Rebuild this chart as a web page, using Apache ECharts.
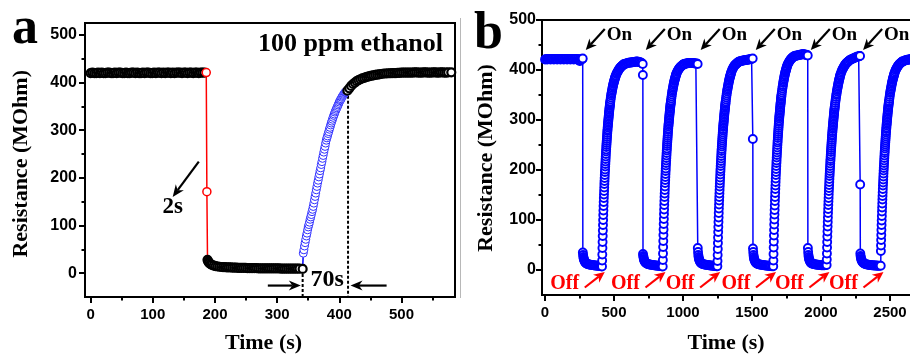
<!DOCTYPE html>
<html><head><meta charset="utf-8">
<script src="https://cdn.jsdelivr.net/npm/echarts@6/dist/echarts.min.js"></script>
<style>html,body{margin:0;padding:0;background:#fff}#c{width:910px;height:358px}</style>
</head><body><div id="c"></div>
<script>
// ---------------- Panel a data: [time (s), resistance (MOhm)] ----------------
const a_base = [[0,420],[3,421],[6,420],[9,420],[12,421],[15,420],[18,421],[21,420],[24,420],[27,421],[30,421],[33,420],[36,420],[39,421],[42,420],[45,421],[48,421],[51,420],[54,420],[57,421],[60,420],[63,420],[66,421],[69,421],[72,420],[75,421],[78,420],[81,420],[84,421],[87,420],[90,421],[93,421],[96,420],[99,420],[102,421],[105,420],[108,421],[111,421],[114,420],[117,421],[120,420],[123,421],[126,421],[129,420],[132,421],[135,420],[138,421],[141,421],[144,421],[147,420],[150,421],[153,421],[156,420],[159,421],[162,421],[165,420],[168,421],[171,421],[174,420],[177,421],[180,421],[183,421]];
const a_drop = [[186,421],[187,171]];
const a_decay = [[188,28],[189,25],[190,23],[191,21],[193,19],[195,17.5],[198,16],[201,15],[204,14],[207,13.5],[210,13],[213,12.5],[216,12.5],[219,12],[222,12],[225,12],[228,11.5],[231,11.5],[234,11.5],[237,11],[240,11],[243,11],[246,11],[249,11],[252,10.5],[255,10.5],[258,10.5],[261,10.5],[264,10.5],[267,10.5],[270,10],[273,10],[276,10],[279,10],[282,10],[285,10],[288,10],[291,10],[294,10],[297,10],[300,10],[303,10],[306,9.5],[309,9.5],[312,9.5],[315,9.5],[318,9.5],[321,9.5],[324,9.5],[327,9.5],[330,9.5],[333,9.5],[336,9.5],[341,9]];
const a_rise = [[342,42],[343,49],[344,57],[345,64],[346,71],[347,78],[348,84],[349,91],[350,97],[351,102],[352,107],[353,113],[354,118],[355,123],[356,129],[357,134],[358,140],[359,147],[360,154],[361,161],[362,168],[363,175],[364,182],[365,189],[366,195],[367,202],[368,208],[369,215],[370,221],[371,228],[372,234],[373,241],[374,247],[375,254],[376,260],[377,266],[378,273],[379,279],[380,284],[381,288],[382,293],[383,297],[384,302],[385,306],[386,311],[387,315],[388,319],[389,323],[390,327],[391,331],[392,334],[393,338],[394,341],[395,344],[396,347],[397,350],[398,353],[399,356],[400,359],[401,362],[402,364],[403,366],[404,369],[405,371],[406,373],[407,375],[408,377],[409,379],[410,380],[411,381],[412,382]];
const a_recover = [[413,383],[416,388],[419,393],[422,397],[425,400],[428,403],[431,405],[434,407],[437,409],[440,410],[443,411.5],[446,412.5],[449,413.5],[452,414.5],[455,415],[458,416],[461,416.5],[464,417],[467,418],[470,418.5],[473,419],[476,419],[479,419.5],[482,419.5],[485,420],[488,420],[491,420],[494,420.5],[497,420.5],[500,421],[503,421],[506,421],[509,421],[512,421],[515,421],[518,421],[521,421.5],[524,421.5],[527,421],[530,421],[533,421],[536,421.5],[539,421.5],[542,421],[545,421],[548,421],[551,421.5],[554,421.5],[557,421],[560,421],[563,421.5],[566,421.5],[569,421],[572,421],[575,421.5],[580,421.5]];
const a_response_t = [341, 9];     // start of recovery (time, value)
const a_recovery_t = [414, 383];   // end of the 70 s recovery (time, value)

// ---------------- Panel b data ----------------
const b_base = [[0,421],[8,422],[16,421],[24,422],[32,422],[40,421],[48,422],[56,422],[64,421],[72,422],[80,422],[88,421],[96,422],[104,422],[112,421],[120,422],[128,422],[136,421],[144,422],[152,422],[160,421],[168,422],[176,422],[184,421],[192,422],[200,422],[208,421],[216,422],[224,422],[232,421],[240,422],[246,420],[251,418],[256,419],[261,421],[266,422],[270,422],[273,423]];
const b_cycle1 = [[274,35],[276,30],[278,26],[280,23],[282,21],[285,19],[288,17],[291,15.5],[295,14],[300,13],[306,12],[313,11.5],[320,11],[328,10.5],[336,10],[344,10],[352,9.5],[360,9],[368,9],[376,8.5],[384,8.5],[392,8],[400,8],[407,7.5],[413,7],
 [414,19],[415,31],[416,44],[417,56],[418,68],[419,79],[420,90],[421,100],[422,110],[423,119],[424,128],[425,136],[426,144],[427,151],[428,158],[429,165],[430,172],[431,178],[432,184],[433,190],[434,196],[435,201],[436,207],[437,212],[438,217],[439,222],[440,227],[441,232],[442,237],[443,241],[444,246],[445,250],[446,254],[447,258],[448,262],[449,266],[450,270],[451,274],[452,278],[453,281],[454,285],[455,288],[456,291],[457,294],[458,297],[459,300],[460,303],[461,306],[462,309],[463,312],[464,315],[465,317],[466,320],[467,323],[468,325],[469,328],[470,330],[471,332],[472,335],[473,337],
 [475,341],[477,345],[479,349],[481,352],[483,355],[485,358],[487,361],[489,364],[491,367],[493,369],[495,372],[497,374],[499,376],[501,378],[503,380],[505,382],[507,384],[509,386],[511,387],[513,389],
 [517,392],[521,394],[525,396],[529,398],[533,400],[537,402],[541,403],[545,405],[549,406],[553,407],[557,408],[561,409],[565,410],[569,411],[573,412],
 [581,412],[589,413],[597,414],[605,414],[613,415],[621,415],[629,415],[637,416],[645,416],[653,416],[661,417],[669,417],[677,416],[685,416],[693,415],[701,414],[708,412],[709,390]];
const b_cycle2 = [[710,32],[712,28],[714,25],[716,22],[718,20],[721,18],[724,16.5],[728,15],[732,14],[737,13],[743,12],[750,11.5],[758,11],[766,10.5],[774,10],[782,10],[790,9.5],[798,9],[806,9],[814,8.5],[822,8.5],[830,8],[838,8],[846,7.5],[853,7],
 [854,20],[855,33],[856,46],[857,58],[858,70],[859,81],[860,92],[861,102],[862,112],[863,121],[864,130],[865,138],[866,146],[867,153],[868,160],[869,167],[870,174],[871,180],[872,186],[873,192],[874,198],[875,203],[876,209],[877,214],[878,219],[879,224],[880,229],[881,234],[882,239],[883,243],[884,248],[885,252],[886,256],[887,260],[888,264],[889,268],[890,272],[891,276],[892,280],[893,283],[894,287],[895,290],[896,293],[897,296],[898,299],[899,302],[900,305],[901,308],[902,311],[903,314],[904,317],[905,319],[906,322],[907,325],[908,327],[909,330],[910,332],[911,334],[912,337],[913,339],
 [915,343],[917,347],[919,351],[921,355],[923,358],[925,361],[927,364],[929,367],[931,370],[933,373],[935,375],[937,378],[939,380],[941,382],[943,384],[945,386],[947,388],[949,390],[951,392],[953,393],
 [957,396],[961,398],[965,400],[969,402],[973,403],[977,405],[981,406],[985,407],[989,408],[993,409],[997,410],[1001,411],[1005,411],[1009,412],[1013,412],
 [1021,413],[1029,413],[1037,414],[1045,414],[1053,414],[1061,414],[1069,414],[1077,414],[1085,413],[1093,413],[1100,413],[1106,412]];
const b_cycle3 = [[1107,44],[1109,36],[1111,30],[1113,26],[1115,23],[1117,21],[1120,19],[1123,17],[1126,15.5],[1130,14],[1135,13],[1141,12],[1148,11.5],[1156,11],[1164,10.5],[1172,10],[1180,10],[1188,9.5],[1196,9],[1204,9],[1212,8.5],[1220,8.5],[1228,8],[1236,8],[1243,7.5],[1249,7.5],
 [1250,18],[1251,30],[1252,42],[1253,54],[1254,65],[1255,76],[1256,86],[1257,96],[1258,105],[1259,114],[1260,123],[1261,131],[1262,139],[1263,146],[1264,153],[1265,160],[1266,167],[1267,173],[1268,179],[1269,185],[1270,191],[1271,197],[1272,202],[1273,208],[1274,213],[1275,218],[1276,223],[1277,228],[1278,233],[1279,238],[1280,242],[1281,247],[1282,251],[1283,255],[1284,259],[1285,263],[1286,267],[1287,271],[1288,275],[1289,279],[1290,282],[1291,286],[1292,289],[1293,292],[1294,295],[1295,298],[1296,301],[1297,304],[1298,307],[1299,310],[1300,313],[1301,316],[1302,319],[1303,321],[1304,324],[1305,327],[1306,329],[1307,332],[1308,334],[1309,337],
 [1311,341],[1313,345],[1315,349],[1317,353],[1319,357],[1321,360],[1323,363],[1325,366],[1327,369],[1329,372],[1331,375],[1333,378],[1335,380],[1337,383],[1339,385],[1341,387],[1343,389],[1345,391],[1347,393],[1349,395],
 [1353,398],[1357,401],[1361,403],[1365,405],[1369,407],[1373,409],[1377,410],[1381,411],[1385,412],[1389,413],[1393,414],[1397,415],[1401,416],[1405,416],[1409,417],
 [1417,418],[1425,418],[1433,419],[1441,419],[1449,420],[1457,420],[1465,420],[1473,421],[1481,421],[1489,422],[1497,422],[1505,423],[1506,262]];
const b_cycle4 = [[1507,43],[1509,36],[1511,30],[1513,26],[1515,23],[1517,21],[1520,19],[1523,17],[1526,15.5],[1530,14],[1535,13],[1541,12],[1548,11.5],[1556,11],[1564,10.5],[1572,10],[1580,10],[1588,9.5],[1596,9],[1604,9],[1612,8.5],[1620,8.5],[1628,8],[1636,8],[1645,7.5],[1654,7.5],
 [1655,19],[1656,32],[1657,45],[1658,57],[1659,69],[1660,80],[1661,91],[1662,101],[1663,111],[1664,120],[1665,129],[1666,138],[1667,146],[1668,154],[1669,162],[1670,169],[1671,176],[1672,183],[1673,190],[1674,196],[1675,202],[1676,208],[1677,214],[1678,219],[1679,225],[1680,230],[1681,235],[1682,240],[1683,245],[1684,250],[1685,255],[1686,259],[1687,264],[1688,268],[1689,272],[1690,276],[1691,280],[1692,284],[1693,288],[1694,292],[1695,296],[1696,299],[1697,303],[1698,306],[1699,309],[1700,312],[1701,315],[1702,318],[1703,321],[1704,324],[1705,327],[1706,330],[1707,333],[1708,335],[1709,338],[1710,341],[1711,343],[1712,346],[1713,348],[1714,351],
 [1716,355],[1718,359],[1720,363],[1722,367],[1724,370],[1726,374],[1728,377],[1730,380],[1732,383],[1734,386],[1736,389],[1738,391],[1740,394],[1742,396],[1744,398],[1746,400],[1748,402],[1750,404],[1752,406],[1754,408],
 [1758,411],[1762,413],[1766,415],[1770,417],[1774,419],[1778,420],[1782,422],[1786,423],[1790,424],[1794,425],[1798,426],[1802,427],[1806,427],[1810,428],[1814,428],
 [1822,429],[1830,429],[1838,430],[1846,430],[1854,431],[1862,431],[1870,432],[1878,431],[1886,431],[1894,430],[1900,430],[1904,429]];
const b_cycle5 = [[1905,44],[1907,36],[1909,30],[1911,26],[1913,23],[1915,21],[1918,19],[1921,17],[1924,15.5],[1928,14],[1933,13],[1939,12.5],[1946,12],[1954,11.5],[1962,11],[1970,10.5],[1978,10.5],[1986,10],[1994,10],[2002,9.5],[2010,9.5],[2018,9.5],[2026,9.5],[2034,10],[2041,10],
 [2042,21],[2043,33],[2044,45],[2045,56],[2046,67],[2047,77],[2048,87],[2049,96],[2050,105],[2051,114],[2052,122],[2053,130],[2054,137],[2055,144],[2056,151],[2057,158],[2058,164],[2059,170],[2060,176],[2061,182],[2062,188],[2063,193],[2064,198],[2065,203],[2066,208],[2067,213],[2068,218],[2069,222],[2070,227],[2071,231],[2072,236],[2073,240],[2074,244],[2075,248],[2076,252],[2077,256],[2078,260],[2079,264],[2080,268],[2081,271],[2082,275],[2083,278],[2084,282],[2085,285],[2086,288],[2087,291],[2088,294],[2089,297],[2090,300],[2091,303],[2092,306],[2093,309],[2094,312],[2095,314],[2096,317],[2097,320],[2098,322],[2099,325],[2100,327],[2101,330],
 [2103,334],[2105,338],[2107,342],[2109,346],[2111,350],[2113,353],[2115,357],[2117,360],[2119,363],[2121,366],[2123,369],[2125,372],[2127,375],[2129,377],[2131,380],[2133,382],[2135,384],[2137,387],[2139,389],[2141,391],
 [2145,394],[2149,397],[2153,400],[2157,402],[2161,404],[2165,406],[2169,408],[2173,410],[2177,411],[2181,413],[2185,414],[2189,415],[2193,416],[2197,417],[2201,418],
 [2209,420],[2217,421],[2225,422],[2233,423],[2241,424],[2249,425],[2257,426],[2265,427],[2273,427],[2279,428],[2283,428],[2284,171]];
const b_cycle6 = [[2285,33],[2287,28],[2289,25],[2291,22],[2294,20],[2297,18],[2300,16.5],[2304,15],[2308,14],[2313,13],[2319,12],[2326,11.5],[2334,11],[2342,10.5],[2350,10],[2358,10],[2366,9.5],[2374,9.5],[2382,9],[2390,9],[2398,9],[2406,8.5],[2414,8.5],[2422,8.5],[2433,8.5],
 [2434,38],[2435,49],[2436,60],[2437,70],[2438,80],[2439,90],[2440,99],[2441,108],[2442,117],[2443,125],[2444,133],[2445,141],[2446,148],[2447,155],[2448,162],[2449,169],[2450,175],[2451,181],[2452,187],[2453,193],[2454,199],[2455,204],[2456,209],[2457,214],[2458,219],[2459,224],[2460,229],[2461,234],[2462,238],[2463,243],[2464,247],[2465,251],[2466,255],[2467,259],[2468,263],[2469,267],[2470,271],[2471,275],[2472,278],[2473,282],[2474,285],[2475,289],[2476,292],[2477,295],[2478,298],[2479,301],[2480,304],[2481,307],[2482,310],[2483,313],[2484,316],[2485,319],[2486,321],[2487,324],[2488,326],[2489,329],[2490,331],[2491,334],[2492,336],[2493,338],
 [2495,342],[2497,346],[2499,350],[2501,354],[2503,357],[2505,360],[2507,363],[2509,366],[2511,369],[2513,372],[2515,375],[2517,377],[2519,380],[2521,382],[2523,384],[2525,386],[2527,388],[2529,390],[2531,392],[2533,394],
 [2537,397],[2541,400],[2545,402],[2549,404],[2553,406],[2557,408],[2561,409],[2565,411],[2569,412],[2573,413],[2577,414],[2581,415],[2585,416],[2589,417],[2593,417],
 [2601,418],[2609,419],[2617,420],[2625,420],[2633,421],[2641,421],[2649,422],[2657,422],[2665,422],[2673,422],[2681,423],[2689,422],[2697,422],[2705,423],[2713,422]];
const b_on_times  = [273, 708, 1106, 1505, 1904, 2283];
const b_off_times = [413, 853, 1249, 1654, 2041, 2433];

// ---------------- Tick labels ----------------
const a_x_ticks = [0,100,200,300,400,500];
const a_x_minor = [50,150,250,350,450,550];
const a_y_ticks = [0,100,200,300,400,500];
const a_y_minor = [50,150,250,350,450];
const b_x_ticks = [0,500,1000,1500,2000,2500];
const b_x_minor = [250,750,1250,1750,2250,2750];
const b_y_ticks = [0,100,200,300,400,500];
const b_y_minor = [50,150,250,350,450];

const SERIF = '"Liberation Serif", "Times New Roman", serif';
const SANS = '"Liberation Sans", Arial, sans-serif';
const BLUE = '#0000ff', RED = '#ff0000', BLACK = '#000000';

const chart = echarts.init(document.getElementById('c'), null, {renderer: 'canvas'});

function axisPair(kind, gridIndex, min, max, major, minor, margin, fsize) {
  const pos = kind === 'x' ? 'bottom' : 'left';
  const main = {gridIndex, type: 'value', min, max, position: pos, splitLine: {show: false},
    axisLine: {show: true, onZero: false, lineStyle: {color: BLACK, width: 2}},
    axisTick: {show: true, customValues: major, length: 6, lineStyle: {color: BLACK, width: 2}},
    axisLabel: {show: true, customValues: major, margin, color: BLACK, fontFamily: SANS, fontWeight: 'bold', fontSize: fsize,
                formatter: v => String(v)}};
  const sub = {gridIndex, type: 'value', min, max, position: pos, splitLine: {show: false},
    axisLine: {show: false, onZero: false},
    axisTick: {show: true, customValues: minor, length: 3.5, lineStyle: {color: BLACK, width: 2}},
    axisLabel: {show: false}};
  return [main, sub];
}

function circleSeries(data, color, xi, yi, bw, opts) {
  return Object.assign({
    type: 'line', xAxisIndex: xi, yAxisIndex: yi, data,
    symbol: 'circle', symbolSize: 8, showAllSymbol: true,
    itemStyle: {color: '#fff', borderColor: color, borderWidth: bw},
    lineStyle: {color, width: 1.5}, emphasis: {disabled: true}, silent: true, animation: false
  }, opts || {});
}

const xA = axisPair('x', 0, -9, 586, a_x_ticks, a_x_minor, 10, 15);
const yA = axisPair('y', 0, -50, 525, a_y_ticks, a_y_minor, 8, 16);
const xB = axisPair('x', 1, -22, 2877, b_x_ticks, b_x_minor, 10, 15);
const yB = axisPair('y', 1, -50, 500, b_y_ticks, b_y_minor, 6, 16);

const noSym = p => ({value: p, symbol: 'none'});

const option = {
  animation: false,
  grid: [
    {left: 85, top: 23, width: 370, height: 274, show: true, borderColor: BLACK, borderWidth: 2, backgroundColor: 'transparent', containLabel: false, outerBoundsMode: 'none'},
    {left: 542, top: 20, width: 400, height: 275, show: true, borderColor: BLACK, borderWidth: 2, backgroundColor: 'transparent', containLabel: false, outerBoundsMode: 'none'}
  ],
  xAxis: [xA[0], xA[1], xB[0], xB[1]],
  yAxis: [yA[0], yA[1], yB[0], yB[1]],
  series: [
    {type: 'line', xAxisIndex: 0, yAxisIndex: 0, symbol: 'none', silent: true,
     data: [a_response_t, [a_response_t[0], -50]], lineStyle: {color: BLACK, width: 2, type: [3, 2]}},
    {type: 'line', xAxisIndex: 0, yAxisIndex: 0, symbol: 'none', silent: true,
     data: [a_recovery_t, [a_recovery_t[0], -50]], lineStyle: {color: BLACK, width: 2, type: [3, 2]}},
    circleSeries(a_base, BLACK, 0, 0, 2.2),
    circleSeries(a_drop.concat([noSym(a_decay[0])]), RED, 0, 0, 1.5),
    circleSeries(a_decay, BLACK, 0, 0, 2.2),
    circleSeries([noSym(a_decay[a_decay.length - 1])].concat(a_rise), BLUE, 0, 0, 1, {itemStyle: {color: '#fff', borderColor: '#3030ff', borderWidth: 1}}),
    circleSeries(a_recover, BLACK, 0, 0, 2.2),
    circleSeries([].concat(b_base, b_cycle1, b_cycle2, b_cycle3, b_cycle4, b_cycle5, b_cycle6), BLUE, 2, 2, 1.9)
  ]
};
chart.setOption(option);

// ---------------- annotations ----------------
const pa = p => chart.convertToPixel({xAxisIndex: 0, yAxisIndex: 0}, p);
const pb = p => chart.convertToPixel({xAxisIndex: 2, yAxisIndex: 2}, p);

function arrow(p1, p2, color, lw, L, W) {
  const dx = p2[0] - p1[0], dy = p2[1] - p1[1], len = Math.hypot(dx, dy);
  const ux = dx / len, uy = dy / len, nx = -uy, ny = ux;
  const bx = p2[0] - ux * L, by = p2[1] - uy * L;
  const mx = p2[0] - ux * L * 0.7, my = p2[1] - uy * L * 0.7;
  return [
    {type: 'line', silent: true, shape: {x1: p1[0], y1: p1[1], x2: mx, y2: my}, style: {stroke: color, lineWidth: lw}},
    {type: 'polygon', silent: true, shape: {points: [[p2[0], p2[1]], [bx + nx * W, by + ny * W], [mx, my], [bx - nx * W, by - ny * W]]}, style: {fill: color}}
  ];
}
function txt(x, y, s, size, color, align, extra) {
  return Object.assign({type: 'text', silent: true, x, y,
    style: {text: s, fontFamily: SERIF, fontWeight: 'bold', fontSize: size, fill: color,
            align: align, textAlign: align, verticalAlign: 'middle', textVerticalAlign: 'middle'}}, extra || {});
}

const g = [];
g.push({type: 'line', silent: true, shape: {x1: 460.5, y1: 18, x2: 460.5, y2: 298}, style: {stroke: '#b8b8b8', lineWidth: 1}});
g.push(txt(12, 29.5, 'a', 52, BLACK, 'left'));
g.push(txt(474, 34.8, 'b', 52, BLACK, 'left'));
g.push(txt(258, 44.6, '100 ppm ethanol', 26, BLACK, 'left'));
g.push(txt(0, 0, 'Resistance (MOhm)', 22, BLACK, 'center', {x: 21, y: 163.8, rotation: Math.PI / 2}));
g.push(txt(0, 0, 'Resistance (MOhm)', 22, BLACK, 'center', {x: 486, y: 158, rotation: Math.PI / 2}));
g.push(txt(263.5, 343.7, 'Time (s)', 22, BLACK, 'center'));
g.push(txt(726, 343.7, 'Time (s)', 22, BLACK, 'center'));
g.push(...arrow(pa([174, 234]), pa([132, 160]), BLACK, 2.2, 12, 5));
const p2s = pa([132, 138]);
g.push(txt(p2s[0], p2s[1], '2s', 23, BLACK, 'center'));
g.push(...arrow(pa([285, -26]), pa([338, -26]), BLACK, 2.2, 12, 5));
g.push(...arrow(pa([476, -26]), pa([418, -26]), BLACK, 2.2, 12, 5));
const p70 = pa([353.6, -14]);
g.push(txt(p70[0], p70[1], '70s', 24, BLACK, 'left'));
b_on_times.forEach(t => {
  g.push(...arrow(pb([t + 160, 482]), pb([t + 22, 440]), BLACK, 2.2, 11, 5));
  const p = pb([t + 174, 470]);
  g.push(txt(p[0], p[1], 'On', 19, BLACK, 'left'));
});
b_off_times.forEach(t => {
  g.push(...arrow(pb([t - 125, -35]), pb([t + 20, -4]), RED, 2.2, 11, 5));
  const p = pb([t - 375, -28]);
  g.push(txt(p[0], p[1], 'Off', 20, RED, 'left'));
});
chart.setOption({graphic: {elements: g}});
</script></body></html>
